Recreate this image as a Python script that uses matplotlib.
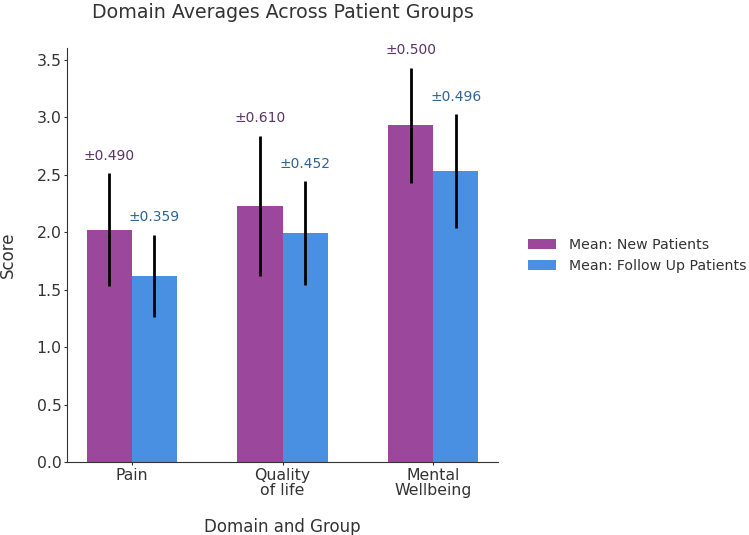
import matplotlib
matplotlib.use("Agg")
import matplotlib.pyplot as plt
import numpy as np

categories = ["Pain", "Quality\nof life", "Mental\nWellbeing"]
new_means = [2.02, 2.23, 2.93]
follow_means = [1.62, 1.99, 2.53]
new_sd = [0.490, 0.610, 0.500]
follow_sd = [0.359, 0.452, 0.496]

c_new = "#9b479b"
c_follow = "#4a90e2"
t_new = "#5a3466"
t_follow = "#2f6496"
txt = "#333333"

fig = plt.figure(figsize=(7.49, 5.35), dpi=100)
ax = fig.add_axes([0.0895, 0.1364, 0.5755, 0.7736])

x = np.arange(len(categories))
w = 0.3
ax.bar(x - w/2, new_means, w, color=c_new, label="Mean: New Patients")
ax.bar(x + w/2, follow_means, w, color=c_follow, label="Mean: Follow Up Patients")
ax.errorbar(x - w/2, new_means, yerr=new_sd, fmt="none", ecolor="black", elinewidth=2, capsize=0)
ax.errorbar(x + w/2, follow_means, yerr=follow_sd, fmt="none", ecolor="black", elinewidth=2, capsize=0)

for xi, m, s in zip(x - w/2, new_means, new_sd):
    ax.text(xi, m + s + 0.09, f"±{s:.3f}", ha="center", va="bottom", color=t_new, fontsize=10)
for xi, m, s in zip(x + w/2, follow_means, follow_sd):
    ax.text(xi, m + s + 0.09, f"±{s:.3f}", ha="center", va="bottom", color=t_follow, fontsize=10)

ax.set_xticks(x)
ax.set_xticklabels(categories, fontsize=11.3, color=txt, linespacing=1.05)
ax.set_ylim(0, 3.6)
ax.set_yticks(np.arange(0, 3.51, 0.5))
ax.tick_params(axis="y", labelsize=11.3, labelcolor=txt)
ax.tick_params(length=2.5, pad=1.5, colors=txt)
ax.spines["top"].set_visible(False)
ax.spines["right"].set_visible(False)
for s in ["left", "bottom"]:
    ax.spines[s].set_color(txt)
ax.set_ylabel("Score", fontsize=12, color=txt, labelpad=14)
ax.set_xlabel("Domain and Group", fontsize=12, color=txt, labelpad=14)
ax.set_title("Domain Averages Across Patient Groups", fontsize=13.7, color=txt, pad=22)

ax.legend(loc="center left", bbox_to_anchor=(1.04, 0.5), frameon=False, fontsize=10.2,
          labelcolor=txt, handlelength=2.0, handletextpad=0.9)

fig.savefig("out.png", dpi=100)
